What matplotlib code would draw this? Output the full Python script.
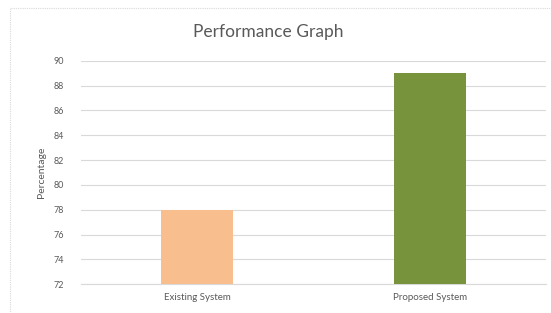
import matplotlib
matplotlib.use("Agg")
import matplotlib.pyplot as plt
from matplotlib.patches import Rectangle

categories = ["Existing System", "Proposed System"]
values = [78, 89]
colors = ["#F9BE8D", "#77933C"]
yticks = [72, 74, 76, 78, 80, 82, 84, 86, 88, 90]

W, H = 551, 313
fig = plt.figure(figsize=(W/100, H/100), dpi=100)
plt.rcParams['font.family'] = ['Lato', 'DejaVu Sans']

# chart border
fig.patches.append(Rectangle((10/W, 0), 1, 1 - 8/H, transform=fig.transFigure,
                             fill=False, edgecolor="#D9D9D9", linewidth=0.8,
                             linestyle=(0, (1, 1))))

left, right, top, bottom = 81, 546, 60.7, 284.3
ax = fig.add_axes([left/W, 1 - bottom/H, (right-left)/W, (bottom-top)/H])
x = range(len(categories))
ax.bar(x, values, width=0.31, color=colors, zorder=3)
ax.set_xlim(-0.5, 1.5)
ax.set_ylim(72, 90)
ax.set_yticks(yticks)
ax.set_yticklabels([str(t) for t in yticks], fontsize=6.5, color="#595959")
ax.set_xticks(list(x))
ax.set_xticklabels(categories, fontsize=7, color="#595959")
ax.tick_params(axis='both', length=0, pad=12)
ax.tick_params(axis='x', pad=6)
ax.grid(axis='y', color="#D9D9D9", linewidth=0.8, zorder=0)
for s in ["top", "right", "left"]:
    ax.spines[s].set_visible(False)
ax.spines["bottom"].set_color("#D9D9D9")
ax.spines["bottom"].set_linewidth(0.8)
ax.set_ylabel("Percentage", fontsize=7.5, color="#595959", labelpad=6)
fig.text(268/W, 1 - 32/H, "Performance Graph", ha="center", va="center",
         fontsize=12.5, color="#595959")

fig.savefig("out.png", dpi=100)
